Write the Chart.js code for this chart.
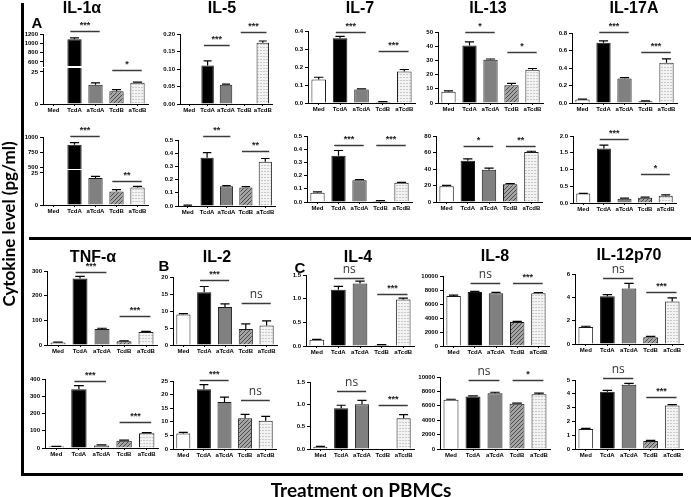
<!DOCTYPE html>
<html><head><meta charset="utf-8">
<script src="https://cdn.jsdelivr.net/npm/chart.js@4.4.1/dist/chart.umd.min.js"></script>
<style>
html,body{margin:0;padding:0;background:#fff;}
#root{position:relative;width:691px;height:497px;overflow:hidden;background:#fff;}
canvas{position:absolute;}
.t{position:absolute;font-family:"Liberation Sans",Arial,sans-serif;font-weight:bold;color:#000;white-space:nowrap;line-height:1;}
.rule{position:absolute;background:#000;}
</style></head><body><div id="root"></div>
<script>
// ---------------- DATA ----------------
const categories = ['Med','TcdA','aTcdA','TcdB','aTcdB'];

// Section A, first row
const il1a_1 = [0, 1090, 15, 10, 16.5];      const il1a_1_sem = [0, 25, 1.5, 1.2, 0.5];
const il5_1 = [0, 0.11, 0.055, 0, 0.175];    const il5_1_sem = [0, 0.013, 0.002, 0, 0.005];
const il7_1 = [0.13, 0.36, 0.075, 0.005, 0.175]; const il7_1_sem = [0.013, 0.01, 0.004, 0.003, 0.011];
const il13_1 = [8, 40.5, 30.5, 12.5, 23.5];  const il13_1_sem = [0.5, 2.5, 0.5, 1.3, 0.8];
const il17a_1 = [0.04, 0.69, 0.28, 0.02, 0.46]; const il17a_1_sem = [0.005, 0.02, 0.01, 0.004, 0.045];
// Section A, second row
const il1a_2 = [0, 870, 21, 10.5, 13.7];     const il1a_2_sem = [0, 35, 1.3, 1.5, 0.8];
const il5_2 = [0.005, 0.365, 0.15, 0.14, 0.335]; const il5_2_sem = [0.001, 0.04, 0.005, 0.007, 0.025];
const il7_2 = [0.07, 0.35, 0.165, 0.008, 0.145]; const il7_2_sem = [0.006, 0.04, 0.004, 0.003, 0.004];
const il13_2 = [19, 50, 39, 21.5, 60.5];     const il13_2_sem = [1.2, 2.2, 2, 0.8, 1];
const il17a_2 = [0.28, 1.63, 0.13, 0.16, 0.22]; const il17a_2_sem = [0.01, 0.1, 0.015, 0.015, 0.025];
// Sections B/C, first row
const tnf_1 = [10, 270, 65, 15, 53];         const tnf_1_sem = [2, 8, 3, 1.5, 2];
const il2_1 = [9, 15.5, 11.2, 4.7, 5.7];     const il2_1_sem = [0.2, 1.7, 0.9, 1.5, 1.4];
const il4_1 = [0.13, 1.19, 1.32, 0.02, 0.98]; const il4_1_sem = [0.01, 0.07, 0.05, 0.01, 0.03];
const il8_1 = [7150, 7700, 7550, 3430, 7550]; const il8_1_sem = [120, 100, 100, 80, 90];
const il12_1 = [1.45, 4.1, 4.75, 0.58, 3.65]; const il12_1_sem = [0.07, 0.13, 0.45, 0.08, 0.3];
// Sections B/C, second row
const tnf_2 = [8, 340, 14, 42, 86];          const tnf_2_sem = [2, 22, 4, 4, 3];
const il2_2 = [5.7, 22, 17.3, 11.3, 10.4];   const il2_2_sem = [0.4, 1.7, 1.8, 1.4, 1.6];
const il4_2 = [0.05, 0.91, 1.0, 0, 0.69];    const il4_2_sem = [0.01, 0.07, 0.09, 0, 0.08];
const il8_2 = [6850, 7300, 7750, 6270, 7620]; const il8_2_sem = [60, 80, 130, 100, 130];
const il12_2 = [1.45, 4.15, 4.65, 0.58, 3.15]; const il12_2_sem = [0.05, 0.1, 0.1, 0.04, 0.06];

// Tick labels
const il1a_1_ticksLo = ['0','25'];  const il1a_1_ticksHi = ['600','800','1000','1200'];
const il5_1_ticks = ['0.00','0.05','0.10','0.15','0.20'];
const il7_1_ticks = ['0.0','0.1','0.2','0.3','0.4'];
const il13_1_ticks = ['0','10','20','30','40','50'];
const il17a_1_ticks = ['0.0','0.2','0.4','0.6','0.8'];
const il1a_2_ticksLo = ['0','25'];  const il1a_2_ticksHi = ['500','750','1000'];
const il5_2_ticks = ['0.0','0.1','0.2','0.3','0.4','0.5'];
const il7_2_ticks = ['0.0','0.1','0.2','0.3','0.4','0.5'];
const il13_2_ticks = ['0','20','40','60','80'];
const il17a_2_ticks = ['0.0','0.5','1.0','1.5','2.0'];
const tnf_1_ticks = ['0','100','200','300'];
const il2_1_ticks = ['0','5','10','15','20'];
const il4_1_ticks = ['0.0','0.5','1.0','1.5'];
const il8_1_ticks = ['0','2000','4000','6000','8000','10000'];
const il12_1_ticks = ['0','2','4','6'];
const tnf_2_ticks = ['0','100','200','300','400'];
const il2_2_ticks = ['0','5','10','15','20','25'];
const il4_2_ticks = ['0.0','0.5','1.0','1.5'];
const il8_2_ticks = ['0','2000','4000','6000','8000','10000'];
const il12_2_ticks = ['0','1','2','3','4','5'];

// Significance: [label, bracket level]; first = TcdA vs aTcdA, second = TcdB vs aTcdB
const il1a_1_sig = [['***',1265],['*',26.6]];
const il5_1_sig = [['***',0.169],['***',0.206]];
const il7_1_sig = [['***',0.394],['***',0.289]];
const il13_1_sig = [['*',50],['*',35.9]];
const il17a_1_sig = [['***',0.811],['***',0.583]];
const il1a_2_sig = [['***',1017],['**',18.75]];
const il5_2_sig = [['**',0.53],['**',0.417]];
const il7_2_sig = [['***',0.432],['***',0.432]];
const il13_2_sig = [['*',67.9],['**',67.9]];
const il17a_2_sig = [['***',1.91],['*',0.866]];
const tnf_1_sig = [['***',296],['***',117.6]];
const il2_1_sig = [['***',19.1],['ns',12.35]];
const il4_1_sig = [['ns',1.437],['***',1.099]];
const il8_1_sig = [['ns',9000],['***',9000]];
const il12_1_sig = [['ns',5.66],['***',4.46]];
const tnf_2_sig = [['***',388],['***',151]];
const il2_2_sig = [['***',25.4],['ns',18.0]];
const il4_2_sig = [['ns',1.30],['***',0.985]];
const il8_2_sig = [['ns',9583],['*',9583]];
const il12_2_sig = [['ns',5.14],['***',3.77]];

// ---------------- LAYOUT ----------------
const FONT = '"Liberation Sans", Arial, sans-serif';
const root = document.getElementById('root');

const panels = [
  {d:il1a_1, e:il1a_1_sem, tk:il1a_1_ticksLo, min:0, max:28, sig:il1a_1_sig, si:[1], box:[43,148,68,104]},
  {d:il1a_1, e:il1a_1_sem, tk:il1a_1_ticksHi, min:514, max:1200, sig:il1a_1_sig, si:[0], box:[43,148,34,66], noX:true},
  {d:il5_1, e:il5_1_sem, tk:il5_1_ticks, sig:il5_1_sig, box:[180,272,34,104]},
  {d:il7_1, e:il7_1_sem, tk:il7_1_ticks, sig:il7_1_sig, box:[308,415,31,103]},
  {d:il13_1, e:il13_1_sem, tk:il13_1_ticks, sig:il13_1_sig, box:[438,543,32,103]},
  {d:il17a_1, e:il17a_1_sem, tk:il17a_1_ticks, sig:il17a_1_sig, box:[572,677,33,103]},

  {d:il1a_2, e:il1a_2_sem, tk:il1a_2_ticksLo, min:0, max:27.3, sig:il1a_2_sig, si:[1], box:[43,148,170,205]},
  {d:il1a_2, e:il1a_2_sem, tk:il1a_2_ticksHi, min:467, max:1000, sig:il1a_2_sig, si:[0], box:[43,148,137,169], noX:true},
  {d:il5_2, e:il5_2_sem, tk:il5_2_ticks, sig:il5_2_sig, box:[178,275,140,206]},
  {d:il7_2, e:il7_2_sem, tk:il7_2_ticks, sig:il7_2_sig, box:[307,412,136,202]},
  {d:il13_2, e:il13_2_sem, tk:il13_2_ticks, sig:il13_2_sig, box:[436,542,136,202]},
  {d:il17a_2, e:il17a_2_sem, tk:il17a_2_ticks, sig:il17a_2_sig, box:[573,676,136,203]},

  {d:tnf_1, e:tnf_1_sem, tk:tnf_1_ticks, sig:tnf_1_sig, box:[47,157,271,345]},
  {d:il2_1, e:il2_1_sem, tk:il2_1_ticks, sig:il2_1_sig, box:[173,277,277,345]},
  {d:il4_1, e:il4_1_sem, tk:il4_1_ticks, sig:il4_1_sig, box:[306,414,275,346]},
  {d:il8_1, e:il8_1_sem, tk:il8_1_ticks, sig:il8_1_sig, box:[443,549,276,346]},
  {d:il12_1, e:il12_1_sem, tk:il12_1_ticks, sig:il12_1_sig, box:[575,683,274,344]},

  {d:tnf_2, e:tnf_2_sem, tk:tnf_2_ticks, sig:tnf_2_sig, box:[45,158,379,448]},
  {d:il2_2, e:il2_2_sem, tk:il2_2_ticks, sig:il2_2_sig, box:[173,276,381,449]},
  {d:il4_2, e:il4_2_sem, tk:il4_2_ticks, sig:il4_2_sig, box:[310,414,382,449]},
  {d:il8_2, e:il8_2_sem, tk:il8_2_ticks, sig:il8_2_sig, box:[440,550,377,449]},
  {d:il12_2, e:il12_2_sem, tk:il12_2_ticks, sig:il12_2_sig, box:[575,683,380,449]}
];

function makePattern(ctx, kind) {
  const c = document.createElement('canvas');
  const g = c.getContext('2d');
  if (kind === 'hatch') {
    c.width = 4; c.height = 4;
    g.fillStyle = '#a4a4a4'; g.fillRect(0,0,4,4);
    g.strokeStyle = '#4c4c4c'; g.lineWidth = 1;
    g.beginPath();
    g.moveTo(0,4); g.lineTo(4,0);
    g.moveTo(-1,1); g.lineTo(1,-1);
    g.moveTo(3,5); g.lineTo(5,3);
    g.stroke();
  } else {
    c.width = 3; c.height = 3;
    g.fillStyle = '#f3f3f3'; g.fillRect(0,0,3,3);
    g.fillStyle = '#c9c9c9'; g.fillRect(0,2,2,1);
  }
  return ctx.createPattern(c, 'repeat');
}

function makeChart(p) {
  const [l0, r0, t0, b0] = p.box;
  const l = Math.round(l0), t = Math.round(t0);
  const YW = 40, PT = 34, PR = 10;
  const XH = p.noX ? 0 : 14;
  const PB = p.noX ? 6 : 0;
  const W = Math.round(r0 - l) + YW + PR;
  const H = Math.round(b0 - t) + PT + XH + PB;
  const cv = document.createElement('canvas');
  cv.width = W; cv.height = H;
  cv.style.left = (l - YW) + 'px'; cv.style.top = (t - PT) + 'px';
  cv.style.width = W + 'px'; cv.style.height = H + 'px';
  root.appendChild(cv);
  const ctx = cv.getContext('2d');
  const tickVals = p.tk.map(Number);
  const yMin = p.min !== undefined ? p.min : 0;
  const yMax = p.max !== undefined ? p.max : tickVals[tickVals.length - 1];
  const sigIdx = p.si || [0, 1];
  const colors = ['#ffffff', '#000000', '#808080', makePattern(ctx,'hatch'), makePattern(ctx,'dots')];

  const deco = {
    id: 'deco',
    afterDatasetsDraw(chart) {
      const c = chart.ctx, a = chart.chartArea, ys = chart.scales.y, xs = chart.scales.x;
      const meta = chart.getDatasetMeta(0);
      c.save();
      c.beginPath(); c.rect(a.left, a.top, a.right - a.left, a.bottom - a.top); c.clip();
      c.strokeStyle = '#000'; c.lineWidth = 1.2;
      meta.data.forEach((bar, i) => {
        const v = p.d[i], e = p.e[i];
        if (!e) return;
        const y0 = ys.getPixelForValue(v), y1 = ys.getPixelForValue(v + e);
        const hw = bar.width * 0.32;
        c.beginPath();
        c.moveTo(bar.x, y0); c.lineTo(bar.x, y1);
        c.moveTo(bar.x - hw, y1); c.lineTo(bar.x + hw, y1);
        c.stroke();
      });
      c.restore();
      // significance brackets
      const step = xs.getPixelForValue(1) - xs.getPixelForValue(0);
      c.save();
      sigIdx.forEach(k => {
        const s = p.sig[k];
        const i1 = 1 + 2 * k, i2 = 2 + 2 * k;
        const x1 = xs.getPixelForValue(i1) - 0.2 * step;
        const x2 = xs.getPixelForValue(i2) + 0.2 * step;
        const y = Math.round(ys.getPixelForValue(s[1])) + 0.5;
        c.strokeStyle = '#3a3a3a'; c.lineWidth = 1.5;
        c.beginPath(); c.moveTo(x1, y); c.lineTo(x2, y); c.stroke();
        c.textAlign = 'center'; c.textBaseline = 'alphabetic';
        const xm = (x1 + x2) / 2;
        if (s[0] === 'ns') {
          c.fillStyle = '#333'; c.font = '12px "Open Sans", sans-serif';
          c.fillText('ns', xm, y - 6);
        } else {
          c.fillStyle = '#222'; c.font = 'bold 9px ' + FONT;
          c.fillText(s[0], xm, y - 4);
        }
      });
      c.restore();
    }
  };

  new Chart(ctx, {
    type: 'bar',
    data: {
      labels: categories,
      datasets: [{
        data: p.d,
        backgroundColor: colors,
        borderColor: '#1a1a1a',
        borderWidth: 1,
        barPercentage: 0.68,
        categoryPercentage: 1,
        clip: 0
      }]
    },
    options: {
      responsive: false, animation: false, devicePixelRatio: 1,
      layout: {padding: {top: PT, right: PR, left: 0, bottom: PB}},
      plugins: {legend: {display: false}, tooltip: {enabled: false}, title: {display: false}},
      scales: {
        x: {
          display: !p.noX,
          offset: true,
          grid: {display: true, drawOnChartArea: false, drawTicks: true, tickLength: 2, offset: false, color: '#000', lineWidth: 1},
          border: {display: true, color: '#000', width: 1},
          ticks: {font: {family: FONT, size: 6, weight: 'bold'}, color: '#000', padding: 1, maxRotation: 0, minRotation: 0, autoSkip: false},
          afterFit: s => { s.height = XH; }
        },
        y: {
          min: yMin, max: yMax,
          afterBuildTicks: s => { s.ticks = tickVals.map(v => ({value: v})); },
          grid: {display: true, drawOnChartArea: false, drawTicks: true, tickLength: 3, color: '#000', lineWidth: 1},
          border: {display: true, color: '#000', width: 1},
          ticks: {font: {family: FONT, size: 6, weight: 'bold'}, color: '#000', padding: 2, autoSkip: false,
                  callback: (v, i) => p.tk[i]},
          afterFit: s => { s.width = YW; }
        }
      }
    },
    plugins: [deco]
  });
}

panels.forEach(makeChart);

// ---------------- TEXT & RULES ----------------
function rule(x, y, w, h) {
  const d = document.createElement('div'); d.className = 'rule';
  d.style.left = x + 'px'; d.style.top = y + 'px'; d.style.width = w + 'px'; d.style.height = h + 'px';
  root.appendChild(d);
}
function txt(s, x, y, size, family, rot) {
  const d = document.createElement('div'); d.className = 't'; d.textContent = s;
  d.style.left = x + 'px'; d.style.top = y + 'px'; d.style.fontSize = size + 'px';
  if (family) d.style.fontFamily = family;
  d.style.transform = 'translate(-50%,-50%)' + (rot ? ' rotate(-90deg)' : '');
  root.appendChild(d);
}
rule(21, 3, 3, 473);
rule(21, 473, 662, 3);
rule(29, 237, 662, 3);

const titlesTop = [['IL-1α',82,8],['IL-5',222,8],['IL-7',360,8],['IL-13',488,8],['IL-17A',634,8]];
const titlesBottom = [['TNF-α',93,257],['IL-2',217,257],['IL-4',358,257],['IL-8',495,256],['IL-12p70',629,255]];
titlesTop.concat(titlesBottom).forEach(t => txt(t[0], t[1], t[2], 16));
txt('A', 37, 22, 15); txt('B', 164, 265, 15); txt('C', 300, 267, 15);
txt('Cytokine level (pg/ml)', 8, 224, 17, 'Lato, "Open Sans", sans-serif', true);
txt('Treatment on PBMCs', 361, 489, 19, 'Lato, "Open Sans", sans-serif');
</script></body></html>
